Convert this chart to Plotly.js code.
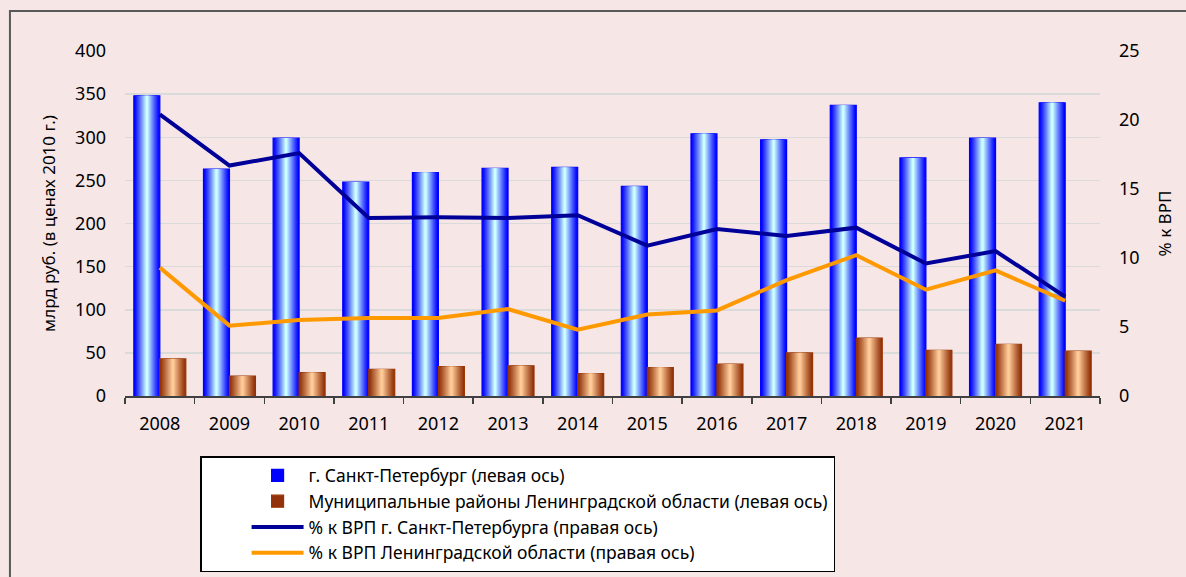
<!DOCTYPE html>
<html>
<head>
<meta charset="utf-8">
<script src="https://cdn.plot.ly/plotly-3.0.1.min.js"></script>
<style>
  html, body { margin: 0; padding: 0; background: #f6e6e6; }
  #chart { width: 1186px; height: 577px; }
</style>
</head>
<body>
<div id="chart"></div>
<script>
// ---- data ----
const years = ['2008','2009','2010','2011','2012','2013','2014','2015','2016','2017','2018','2019','2020','2021'];
const spbValues = [348, 263, 299, 248, 259, 264, 265, 243, 304, 297, 337, 276, 299, 340];
const loValues = [43, 23, 27, 31, 34, 35, 26, 33, 37, 50, 67, 53, 60, 52];
const spbShare = [20.4, 16.7, 17.6, 12.9, 12.95, 12.9, 13.1, 10.9, 12.1, 11.6, 12.2, 9.6, 10.5, 7.2];
const loShare = [9.3, 5.1, 5.5, 5.65, 5.65, 6.3, 4.8, 5.9, 6.2, 8.4, 10.2, 7.7, 9.1, 6.9];

const nameSpb = 'г. Санкт-Петербург (левая ось)';
const nameLo = 'Муниципальные районы Ленинградской области (левая ось)';
const nameSpbShare = '% к ВРП г. Санкт-Петербурга (правая ось)';
const nameLoShare = '% к ВРП Ленинградской области (правая ось)';

// ---- styling helpers ----
const FONT = 'Noto Sans, Open Sans, sans-serif';
const BW = 0.373;      // bar width in category units
const LAYERS = 12;     // layers used to imitate the gradient fill

function mix(a, b, t) {
  const c = a.map((v, i) => Math.round(v + (b[i] - v) * t));
  return 'rgb(' + c.join(',') + ')';
}

function gradientBars(values, name, group, centerOffset, edge, center, lineColor) {
  const traces = [];
  for (let i = 0; i < LAYERS; i++) {
    const frac = 1 - i / LAYERS;
    const w = BW * frac;
    const t = i / (LAYERS - 1);
    traces.push({
      type: 'bar',
      x: years,
      y: values,
      name: name,
      legendgroup: group,
      showlegend: i === 0,
      width: w,
      offset: centerOffset - w / 2,
      marker: {
        color: mix(edge, center, Math.pow(t, 1.1)),
        line: { color: i === 0 ? lineColor : 'rgba(0,0,0,0)', width: i === 0 ? 1.2 : 0 }
      },
      hoverinfo: 'skip',
      yaxis: 'y'
    });
  }
  return traces;
}

const data = [].concat(
  gradientBars(spbValues, nameSpb, 'g1', -BW / 2, [0, 0, 255], [204, 255, 255], '#0000ff'),
  gradientBars(loValues, nameLo, 'g2', BW / 2, [145, 50, 10], [255, 204, 153], '#993300'),
  [
    {
      type: 'scatter', mode: 'lines', x: years, y: spbShare, name: nameSpbShare,
      legendgroup: 'g3', yaxis: 'y2', line: { color: '#000099', width: 4 }
    },
    {
      type: 'scatter', mode: 'lines', x: years, y: loShare, name: nameLoShare,
      legendgroup: 'g4', yaxis: 'y2', line: { color: '#ff9900', width: 4 }
    }
  ]
);

const layout = {
  width: 1186,
  height: 577,
  margin: { l: 125, r: 86, t: 51, b: 181, pad: 0, autoexpand: false },
  paper_bgcolor: '#f6e6e6',
  plot_bgcolor: '#f6e6e6',
  font: { family: FONT, size: 18, color: '#000' },
  barmode: 'overlay',
  showlegend: true,
  xaxis: {
    type: 'category',
    range: [-0.5, 13.5],
    tickson: 'boundaries',
    ticks: 'outside',
    ticklen: 6,
    tickwidth: 1.5,
    tickcolor: '#404040',
    showline: true,
    linecolor: '#404040',
    linewidth: 1.5,
    showgrid: false,
    zeroline: false,
    ticklabelstandoff: 11,
    tickfont: { size: 18 },
    fixedrange: true
  },
  yaxis: {
    range: [0, 400],
    dtick: 50,
    showgrid: true,
    gridcolor: '#dadada',
    gridwidth: 1.5,
    zeroline: false,
    showline: false,
    ticks: '',
    ticklabelstandoff: 18,
    tickfont: { size: 18 },
    title: { text: 'млрд руб. (в ценах 2010 г.)', font: { size: 17 }, standoff: 15 },
    fixedrange: true
  },
  yaxis2: {
    overlaying: 'y',
    side: 'right',
    range: [0, 25],
    dtick: 5,
    showgrid: false,
    zeroline: false,
    showline: false,
    ticks: '',
    ticklabelstandoff: 18,
    tickfont: { size: 18 },
    title: { text: '% к ВРП', font: { size: 17 }, standoff: 20 },
    fixedrange: true
  },
  legend: {
    x: 0.077,
    y: -0.174,
    xanchor: 'left',
    yanchor: 'top',
    bgcolor: '#ffffff',
    bordercolor: '#000000',
    borderwidth: 1.5,
    font: { size: 17.5, family: FONT },
    tracegroupgap: 0,
    itemwidth: 52,
    indentation: 45,
    traceorder: 'grouped'
  },
  shapes: [
    {
      type: 'rect', xref: 'paper', yref: 'paper',
      x0: -0.118, x1: 1.3, y0: -0.62, y1: 1.116,
      line: { color: '#595959', width: 2 },
      fillcolor: 'rgba(0,0,0,0)',
      layer: 'below'
    }
  ]
};

Plotly.newPlot('chart', data, layout, { staticPlot: true, displayModeBar: false });
</script>
</body>
</html>
